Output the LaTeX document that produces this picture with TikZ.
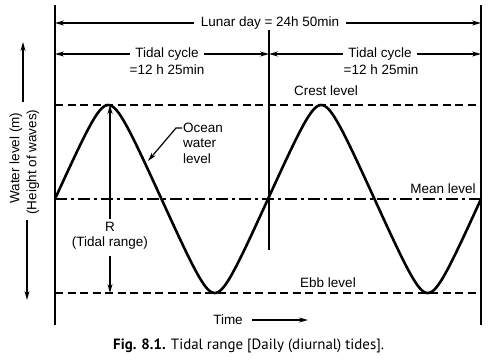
\documentclass[tikz,border=0pt]{standalone}
\usepackage{fontspec}
\setmainfont{Liberation Sans}
\newfontfamily\capfont{PT Sans}
\usetikzlibrary{arrows.meta}
\begin{document}
\begin{tikzpicture}[x=1pt,y=-1pt,
  lbl/.style={font=\fontsize{13.5}{15.5}\selectfont, inner sep=0pt},
  arr/.style={line width=1.2pt, -{Stealth[length=9pt,width=5pt]}},
  bnd/.style={line width=1.6pt},
  lvl/.style={line width=1.4pt, dash pattern=on 8pt off 4.5pt},
  mean/.style={line width=1.3pt, dash pattern=on 12pt off 4pt on 3pt off 4pt},
  wave/.style={line width=2.6pt, line join=round}
]
\useasboundingbox (0,0) rectangle (489,360);
% frame lines
\coordinate (LT) at (55,5);   \coordinate (LB) at (55,325);
\coordinate (RT) at (481,5);  \coordinate (RB) at (481,325);
\coordinate (MT) at (269,30); \coordinate (MB) at (269,250);
\draw[bnd] (LT) -- (LB);
\draw[bnd] (RT) -- (RB);
\draw[bnd] (MT) -- (MB);
% levels
\coordinate (CL) at (55,105); \coordinate (CR) at (481,105);
\coordinate (ML) at (55,199); \coordinate (MR) at (481,199);
\coordinate (EL) at (55,293); \coordinate (ER) at (481,293);
\draw[lvl] (CL) -- (CR);
\draw[mean] (ML) -- (MR);
\draw[lvl] (EL) -- (ER);
% wave
\draw[wave] plot[domain=0:720, samples=241, smooth]
  ({55+0.591667*\x}, {199-94*asin(0.92*sin(\x))/asin(0.92)});
% lunar day
\node[lbl] (lunar) at (270,23) {Lunar day = 24h 50min};
\draw[arr] ([xshift=-7pt]lunar.west) -- (lunar.west -| LT);
\draw[arr] ([xshift=7pt]lunar.east) -- (lunar.east -| RT);
% tidal cycles
\node[lbl] (tc1) at (167,54) {Tidal cycle};
\node[lbl] (tc1b) at (167,70) {=12 h 25min};
\draw[arr] ([xshift=-5pt]tc1.west) -- (tc1.west -| LT);
\draw[arr] ([xshift=5pt]tc1.east) -- (tc1.east -| MT);
\node[lbl] (tc2) at (380,54) {Tidal cycle};
\node[lbl] (tc2b) at (381,70) {=12 h 25min};
\draw[arr] ([xshift=-5pt]tc2.west) -- (tc2.west -| MT);
\draw[arr] ([xshift=5pt]tc2.east) -- (tc2.east -| RT);
% level labels
\node[lbl] (crest) at (326,91) {Crest level};
\node[lbl] (meanl) at (443,189) {Mean level};
\node[lbl] (ebb) at (328,283) {Ebb level};
% tidal range
\node[lbl] (R) at (110,227) {R};
\node[lbl] (TR) at (110,243) {(Tidal range)};
\coordinate (Rtop) at (110,105);
\coordinate (Rbot) at (110,293);
\draw[arr] ([yshift=3pt]R.north) -- (Rtop);
\draw[arr] ([yshift=-6pt]TR.south) -- (Rbot);
% ocean water level
\node[lbl, anchor=west] (o1) at (183,128) {Ocean};
\node[lbl, anchor=west] (o2) at (183,143) {water};
\node[lbl, anchor=west] (o3) at (183,159) {level};
\coordinate (otip) at (148,161);
\draw[arr] ([xshift=-1pt]o1.west) -- ++(-6,0) -- (otip);
% y axis label
\node[lbl, rotate=90] (wl) at (16,158) {Water level (m)};
\node[lbl, rotate=90] (hw) at (33,162) {(Height of waves)};
\coordinate (ua0) at (23,102); \coordinate (ua1) at (23,42);
\coordinate (da0) at (27,220); \coordinate (da1) at (27,300);
\draw[arr] (ua0) -- (ua1);
\draw[arr] (da0) -- (da1);
% time
\node[lbl] (time) at (228,320) {Time};
\draw[arr] ([xshift=9pt]time.east) -- ++(56,0);
% caption
\node[inner sep=0pt, anchor=west, font=\capfont\fontsize{14.9}{16}\selectfont] (cap) at (113,346)
  {\textbf{Fig. 8.1.} Tidal range [Daily (diurnal) tides].};
\end{tikzpicture}
\end{document}
